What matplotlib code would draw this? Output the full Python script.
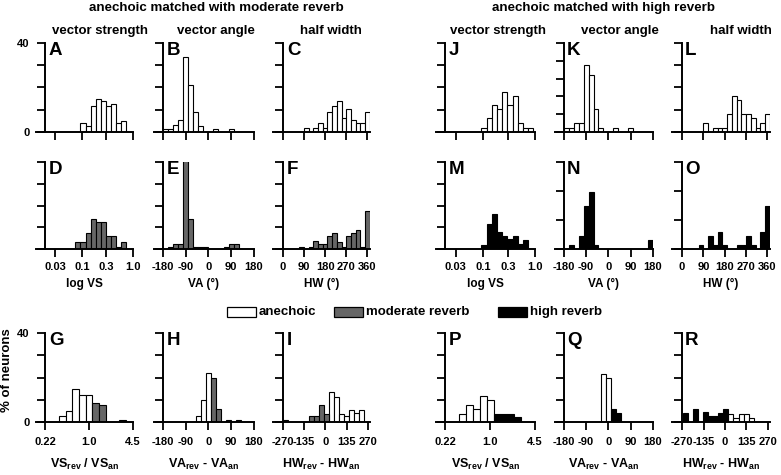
import numpy as np
import matplotlib
matplotlib.use("Agg")
import matplotlib.pyplot as plt
from matplotlib.patches import Rectangle
from matplotlib.ticker import NullLocator

plt.rcParams['font.family'] = ['Liberation Sans', 'DejaVu Sans']
plt.rcParams['font.weight'] = 'bold'
plt.rcParams['mathtext.fontset'] = 'custom'
plt.rcParams['mathtext.rm'] = 'Liberation Sans:bold'
plt.rcParams['mathtext.it'] = 'Liberation Sans:bold'
plt.rcParams['mathtext.bf'] = 'Liberation Sans:bold'

W, H = 781, 475
fig = plt.figure(figsize=(W / 100, H / 100), dpi=100)

GRAY = '#666666'

# ------------------------------------------------------------------ data
# vector strength: bins in log10(VS)
vs_log_edges = -1.13 + 0.1 * np.arange(12)
A_vs = [0, 4.0, 2.7, 11.5, 15.0, 14.0, 11.5, 12.5, 4.0, 5.0, 0]
D_vs = [3.4, 3.4, 7.4, 13.7, 12.3, 12.3, 5.8, 5.8, 1.1, 3.4, 0]
J_vs = [0, 1.9, 6.4, 12.0, 10.3, 18.2, 12.0, 16.1, 4.2, 1.9, 1.9]
M_vs = [0, 1.8, 11.7, 16.1, 8.0, 6.0, 4.4, 5.8, 2.3, 4.0, 0]

# vector angle: bin centers (deg)
va_centers = np.arange(-170, 180, 20)
B_va = [1.4, 1.4, 3.0, 5.2, 33.5, 21.2, 8.8, 2.7, 0, 0, 1.4, 0, 0, 1.4, 0, 0, 0, 0]
E_va = [0, 1.1, 2.3, 2.3, 41.0, 13.8, 1.1, 1.1, 1.1, 0, 0, 0, 1.1, 2.3, 2.3, 0, 0, 0]
K_va = [2.4, 2.4, 4.9, 4.9, 37.5, 32.3, 12.9, 2.4, 0, 0, 2.4, 0, 0, 2.4, 0, 0, 0, 0]
N_va = [0, 1.5, 0, 4.4, 15.0, 19.8, 1.5, 0, 0, 0, 0, 0, 0, 0, 0, 0, 0, 3.0]

# half width: bin centers (deg)
hw_centers = np.arange(80, 361, 20)
C_hw = [0, 1.7, 0, 1.7, 4.1, 1.7, 9.0, 11.6, 14.1, 6.5, 10.5, 5.3, 4.0, 4.0, 9.0]
F_hw = [1.1, 0, 1.1, 3.5, 2.3, 2.3, 5.8, 7.3, 3.4, 1.0, 5.8, 7.3, 8.6, 1.0, 17.5]
L_hw = [0, 4.1, 0, 2.0, 2.0, 2.0, 8.2, 16.1, 14.2, 8.2, 8.2, 6.2, 2.0, 4.2, 8.2]
O_hw = [1.5, 0, 4.4, 1.5, 6.0, 1.5, 0, 0, 1.5, 1.5, 4.4, 1.5, 0, 6.0, 15.0]

# ratio VS_rev / VS_an : bins in log10(ratio), 0.1-decade bins centred on -0.4 ... 0.5
ratio_log_edges = -0.45 + 0.1 * np.arange(11)
G_an = [2.5, 4.8, 14.8, 12.1, 12.1, 0, 0, 0, 0, 0]
G_rev = [0, 0, 0, 0, 0, 8.5, 7.5, 0, 0, 1.0]
P_an = [3.7, 7.8, 5.8, 11.8, 10.0, 0, 0, 0, 0, 0]
P_rev = [0, 0, 0, 0, 0, 3.7, 3.7, 3.7, 2.1, 0]

# VA_rev - VA_an : bin centers (deg)
vad_centers = np.arange(-180, 181, 20)
H_an = [0] * 7 + [2.5, 10.0, 22.0] + [0] * 9
H_rev = [0] * 10 + [20.0, 6.0, 0, 1.0, 0, 1.0, 0, 0, 0]
Q_an = [0] * 8 + [21.7, 19.8] + [0] * 9
Q_rev = [0] * 10 + [6.0, 4.0] + [0] * 7

# HW_rev - HW_an : bin edges (deg)
hwd_edges = -267 + 32 * np.arange(18)
I_an = [0] * 9 + [13.3, 11.2, 3.7, 2.5, 5.2, 4.0, 5.2, 0]
I_rev = [1.0, 0, 0, 0, 0, 2.5, 2.5, 7.5, 3.7] + [0] * 8
R_an = [0] * 9 + [3.7, 2.0, 3.7, 3.7, 2.0, 0, 0, 0]
R_rev = [4.0, 0, 6.0, 0, 4.3, 2.5, 2.5, 4.0, 6.0] + [0] * 8

# ------------------------------------------------------------------ layout (pixels)
cols = [(36, 133), (154, 254), (273, 370), (436, 535), (555, 653), (672, 770)]
yaxis_px = [45, 163, 283, 445, 563, 681]
rows = [(43, 132), (162, 249), (333, 422)]


def make_ax(col, row):
    x0, x1 = cols[col]
    yt, yb = rows[row]
    ax = fig.add_axes([x0 / W, 1 - yb / H, (x1 - x0) / W, (yb - yt) / H])
    ax.patch.set_alpha(0)
    for s in ('top', 'right'):
        ax.spines[s].set_visible(False)
    for s in ('left', 'bottom'):
        ax.spines[s].set_linewidth(1.4)
    ax.tick_params(axis='both', direction='out', length=6, width=1.3,
                   labelsize=8)
    ax.tick_params(axis='x', pad=3.5 if row < 2 else 5)
    ax.tick_params(axis='y', pad=5)
    return ax


def style_x(ax, kind, labels):
    if kind == 'vs':
        ax.set_xscale('log')
        ax.set_xlim(10 ** -1.9, 1.0)
        ax.spines['left'].set_position(('data', 10 ** -1.725))
        ticks, lab = [0.03, 0.1, 0.3, 1.0], ['0.03', '0.1', '0.3', '1.0']
    elif kind == 'ratio':
        ax.set_xscale('log')
        ax.set_xlim(10 ** -0.792, 10 ** 0.656)
        ax.spines['left'].set_position(('data', 0.22))
        ticks, lab = [0.22, 1.0, 4.5], ['0.22', '1.0', '4.5']
    elif kind == 'va':
        ax.set_xlim(-216, 181)
        ax.spines['left'].set_position(('data', -180))
        ticks, lab = [-180, -90, 0, 90, 180], ['-180', '-90', '0', '90', '180']
    elif kind == 'hw':
        ax.set_xlim(-42, 371)
        ax.spines['left'].set_position(('data', 0))
        ticks, lab = [0, 90, 180, 270, 360], ['0', '90', '180', '270', '360']
    elif kind == 'hwd':
        ax.set_xlim(-333, 283)
        ax.spines['left'].set_position(('data', -270))
        ticks, lab = [-270, -135, 0, 135, 270], ['-270', '-135', '0', '135', '270']
    ax.set_xticks(ticks)
    ax.xaxis.set_minor_locator(NullLocator())
    ax.set_xticklabels(lab if labels else [''] * len(ticks))


def style_y(ax, top, step, labels=False):
    ax.set_ylim(0, top)
    t = np.arange(0, top + 0.1, step)
    ax.set_yticks(t)
    if labels:
        ax.set_yticklabels(['0'] + [''] * (len(t) - 2) + [f'{top:g}'])
    else:
        ax.set_yticklabels([''] * len(t))


def letter(col, row, s):
    x = yaxis_px[col] + 4
    y = rows[row][0] - 1
    fig.text(x / W, 1 - y / H, s, fontsize=13.5, fontweight='bold',
             va='top', ha='left')


def log_bars(ax, edges, vals, color):
    e = 10 ** np.asarray(edges)
    v = np.asarray(vals, float)
    m = v > 0
    ax.bar(e[:-1][m], v[m], width=(e[1:] - e[:-1])[m], align='edge',
           color=color, edgecolor='black', linewidth=0.8)


def lin_bars(ax, centers, vals, width, color):
    c = np.asarray(centers, float)
    v = np.asarray(vals, float)
    m = v > 0
    ax.bar(c[m], v[m], width=width, align='center', color=color,
           edgecolor='black', linewidth=0.8)


def edge_bars(ax, edges, vals, color):
    e = np.asarray(edges, float)
    v = np.asarray(vals, float)
    m = v > 0
    ax.bar(e[:-1][m], v[m], width=(e[1:] - e[:-1])[m], align='edge',
           color=color, edgecolor='black', linewidth=0.8)


# ------------------------------------------------------------------ rows 1-2
spec = [
    # col, row, letter, kind, data, color, ytop, ystep
    (0, 0, 'A', 'vs', A_vs, 'white', 40, 10),
    (1, 0, 'B', 'va', B_va, 'white', 40, 10),
    (2, 0, 'C', 'hw', C_hw, 'white', 40, 10),
    (0, 1, 'D', 'vs', D_vs, GRAY, 40, 10),
    (1, 1, 'E', 'va', E_va, GRAY, 40, 10),
    (2, 1, 'F', 'hw', F_hw, GRAY, 40, 10),
    (3, 0, 'J', 'vs', J_vs, 'white', 40, 10),
    (4, 0, 'K', 'va', K_va, 'white', 50, 10),
    (5, 0, 'L', 'hw', L_hw, 'white', 40, 10),
    (3, 1, 'M', 'vs', M_vs, 'black', 40, 10),
    (4, 1, 'N', 'va', N_va, 'black', 30, 10),
    (5, 1, 'O', 'hw', O_hw, 'black', 30, 10),
]
for col, row, let, kind, data, color, ytop, ystep in spec:
    ax = make_ax(col, row)
    style_x(ax, kind, labels=(row == 1))
    style_y(ax, ytop, ystep, labels=(let == 'A'))
    if kind == 'vs':
        log_bars(ax, vs_log_edges, data, color)
    elif kind == 'va':
        lin_bars(ax, va_centers, data, 20, color)
    else:
        lin_bars(ax, hw_centers, data, 20, color)
    letter(col, row, let)
    if row == 1:
        xl = {'vs': 'log VS', 'va': 'VA (°)', 'hw': 'HW (°)'}[kind]
        ax.set_xlabel(xl, fontsize=8.5, fontweight='bold', labelpad=4)

# ------------------------------------------------------------------ row 3
spec3 = [
    (0, 'G', 'ratio', G_an, G_rev, GRAY),
    (1, 'H', 'va', H_an, H_rev, GRAY),
    (2, 'I', 'hwd', I_an, I_rev, GRAY),
    (3, 'P', 'ratio', P_an, P_rev, 'black'),
    (4, 'Q', 'va', Q_an, Q_rev, 'black'),
    (5, 'R', 'hwd', R_an, R_rev, 'black'),
]
xl3 = {'ratio': r'VS$_{\rm rev}$ / VS$_{\rm an}$',
       'va': r'VA$_{\rm rev}$ - VA$_{\rm an}$',
       'hwd': r'HW$_{\rm rev}$ - HW$_{\rm an}$'}
for col, let, kind, an, rev, color in spec3:
    ax = make_ax(col, 2)
    style_x(ax, kind, labels=True)
    style_y(ax, 40, 10, labels=(let == 'G'))
    if kind == 'ratio':
        log_bars(ax, ratio_log_edges, an, 'white')
        log_bars(ax, ratio_log_edges, rev, color)
    elif kind == 'va':
        lin_bars(ax, vad_centers, an, 20, 'white')
        lin_bars(ax, vad_centers, rev, 20, color)
    else:
        edge_bars(ax, hwd_edges, an, 'white')
        edge_bars(ax, hwd_edges, rev, color)
    letter(col, 2, let)
    ax.set_xlabel(xl3[kind], fontsize=9, fontweight='bold', labelpad=7)

# ------------------------------------------------------------------ texts
def ftext(x, y, s, **kw):
    fig.text(x / W, 1 - y / H, s, **kw)

ftext(216, 8, 'anechoic matched with moderate reverb', ha='center', va='center',
      fontsize=9.6, fontweight='bold')
ftext(603, 8, 'anechoic matched with high reverb', ha='center', va='center',
      fontsize=9.6, fontweight='bold')
for x, s in [(100, 'vector strength'), (216, 'vector angle'), (331, 'half width'),
             (498, 'vector strength'), (620, 'vector angle'), (741, 'half width')]:
    ftext(x, 31, s, ha='center', va='center', fontsize=9.5, fontweight='bold')

ftext(7, 370, '% of neurons', rotation=90, ha='center', va='center',
      fontsize=9.5, fontweight='bold')

# legend
leg = [(227, 'white', 'anechoic'), (334, GRAY, 'moderate reverb'),
       (498, 'black', 'high reverb')]
for x, c, s in leg:
    fig.patches.append(Rectangle((x / W, 1 - 317 / H), 29 / W, 10 / H,
                                 transform=fig.transFigure, facecolor=c,
                                 edgecolor='black', linewidth=0.9))
    ftext(x + 32, 312, s, ha='left', va='center', fontsize=9.5,
          fontweight='bold')

fig.savefig('out.png', dpi=100)
